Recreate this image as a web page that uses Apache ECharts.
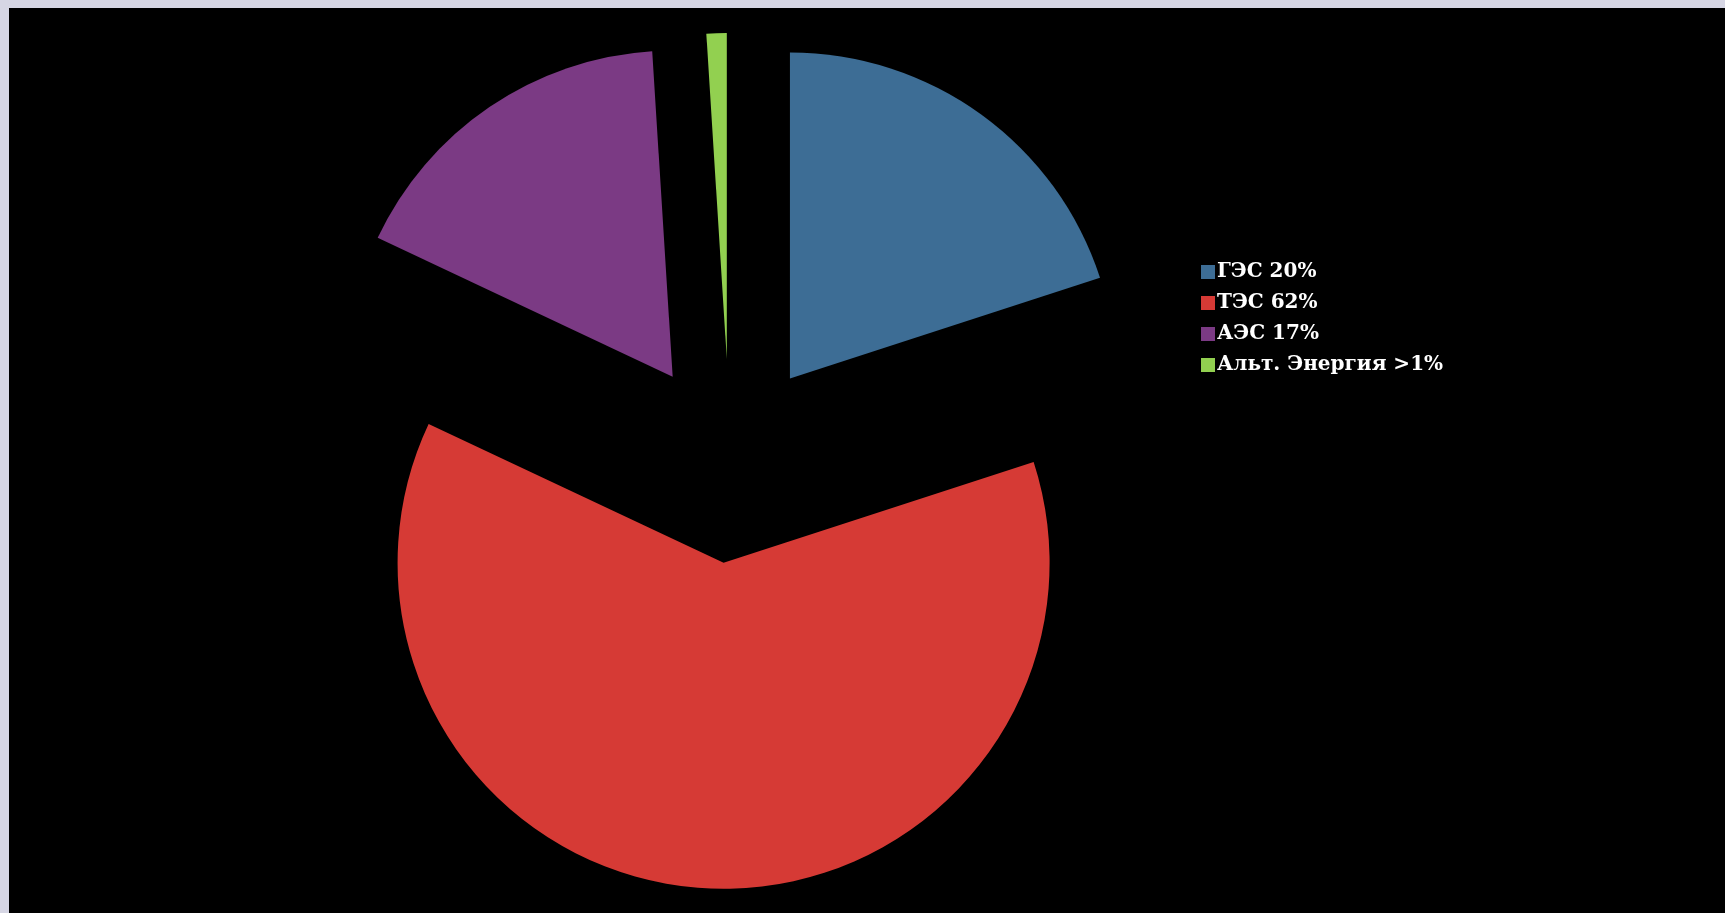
<!DOCTYPE html>
<html>
<head>
<meta charset="utf-8">
<script src="https://cdn.jsdelivr.net/npm/echarts@6/dist/echarts.min.js"></script>
<style>
  html, body { margin: 0; padding: 0; background: #d6d6e4; }
  #chart { width: 1725px; height: 913px; }
</style>
</head>
<body>
<div id="chart"></div>
<script>
// доли выработки электроэнергии
var names = ['ГЭС 20%', 'ТЭС 62%', 'АЭС 17%', 'Альт. Энергия >1%'];
var values = [20, 62, 17, 1];
var colors = ['#3d6d95', '#d63a35', '#7b3a84', '#92d050'];

var myChart = echarts.init(document.getElementById('chart'));

var pieData = names.map(function(n, i) {
    return {
        name: n,
        value: values[i],
        selected: true,
        itemStyle: { color: colors[i] }
    };
});

var option = {
    animation: false,
    backgroundColor: '#d6d6e4',
    graphic: [{
        type: 'rect',
        z: -10,
        silent: true,
        shape: { x: 9, y: 8, width: 1716, height: 905 },
        style: { fill: '#000000' }
    }],
    legend: {
        orient: 'vertical',
        left: 1196,
        top: 257,
        itemWidth: 14,
        itemHeight: 14,
        itemGap: 11,
        icon: 'rect',
        selectedMode: false,
        data: names,
        textStyle: {
            color: '#ffffff',
            fontFamily: 'DejaVu Serif',
            fontWeight: 'bold',
            fontSize: 20,
            padding: [0, 0, 0, -3]
        }
    },
    series: [{
        type: 'pie',
        center: [730, 461],
        radius: [0, 326],
        startAngle: 90,
        clockwise: true,
        selectedMode: 'multiple',
        selectedOffset: 102,
        label: { show: false },
        labelLine: { show: false },
        emphasis: { disabled: true },
        itemStyle: { borderWidth: 0 },
        data: pieData
    }]
};

myChart.setOption(option);
</script>
</body>
</html>
